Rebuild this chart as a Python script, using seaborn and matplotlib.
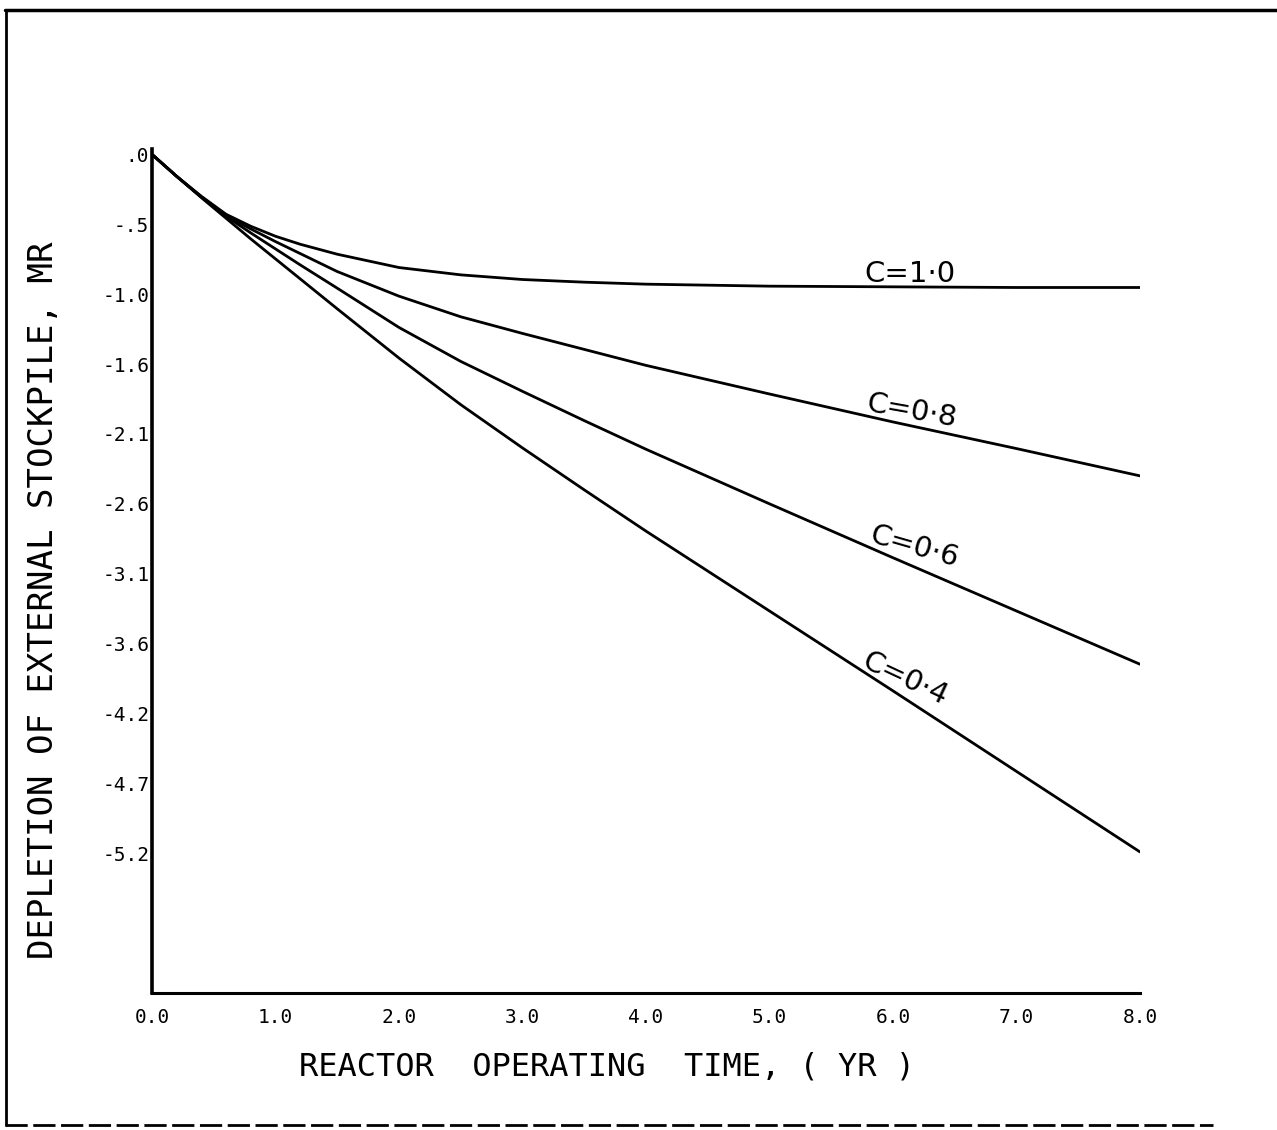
import matplotlib
matplotlib.use("Agg")
import matplotlib.pyplot as plt
from matplotlib.lines import Line2D
import seaborn as sns
import pandas as pd

sns.set_style("white")
plt.rcParams['font.family'] = ['DejaVu Sans Mono', 'DejaVu Sans']
plt.rcParams['text.color'] = 'black'
plt.rcParams['xtick.color'] = 'black'
plt.rcParams['ytick.color'] = 'black'

# values (depletion, MR) vs reactor operating time (yr)
years = [0, 0.2, 0.4, 0.6, 0.8, 1.0, 1.2, 1.5, 2.0, 2.5, 3.0, 3.5, 4.0, 5.0, 6.0, 7.0, 8.0]
c_10 = [0, -0.165, -0.315, -0.45, -0.54, -0.615, -0.675, -0.75, -0.85, -0.905, -0.94, -0.96, -0.975, -0.99, -0.995, -1.0, -1.0]
c_08 = [0, -0.165, -0.32, -0.46, -0.56, -0.655, -0.745, -0.88, -1.065, -1.22, -1.345, -1.465, -1.585, -1.80, -2.01, -2.21, -2.415]
c_06 = [0, -0.165, -0.32, -0.465, -0.59, -0.71, -0.83, -1.005, -1.30, -1.555, -1.78, -2.0, -2.215, -2.625, -3.03, -3.43, -3.83]
c_04 = [0, -0.165, -0.325, -0.48, -0.635, -0.785, -0.935, -1.16, -1.53, -1.88, -2.205, -2.52, -2.83, -3.43, -4.03, -4.635, -5.24]

series = {'C=1·0': c_10, 'C=0·8': c_08, 'C=0·6': c_06, 'C=0·4': c_04}

x_ticks = [0, 1, 2, 3, 4, 5, 6, 7, 8]
x_ticklabels = ['0.0', '1.0', '2.0', '3.0', '4.0', '5.0', '6.0', '7.0', '8.0']
y_ticks = [-0.525 * k for k in range(11)]
y_ticklabels = ['.0', '-.5', '-1.0', '-1.6', '-2.1', '-2.6', '-3.1', '-3.6', '-4.2', '-4.7', '-5.2']

# where the curve names sit: (x, y, rotation)
label_spots = {
    'C=1·0': (5.77, -0.955, 0),
    'C=0·8': (5.78, -1.93, -10),
    'C=0·6': (5.80, -2.91, -16),
    'C=0·4': (5.74, -3.85, -25),
}

frames = []
for name, vals in series.items():
    frames.append(pd.DataFrame({'time': years, 'depletion': vals, 'curve': name}))
df = pd.concat(frames)

fig = plt.figure(figsize=(12.77, 11.3), dpi=100)
ax = fig.add_axes([0.119, 0.1212, 0.7737, 0.7469])

sns.lineplot(data=df, x='time', y='depletion', hue='curve', ax=ax,
             palette=['black'] * 4, linewidth=2.0, legend=False, sort=True,
             solid_joinstyle='round')

ax.set_xlim(0, 8)
ax.set_ylim(-6.3, 0.04)
ax.set_xticks(x_ticks)
ax.set_xticklabels(x_ticklabels)
ax.set_yticks(y_ticks)
ax.set_yticklabels(y_ticklabels)
ax.tick_params(axis='x', direction='in', length=9, width=1.8, pad=11, labelsize=14)
ax.tick_params(axis='y', direction='in', length=8, width=1.8, pad=2, labelsize=14)

for s in ['top', 'right']:
    ax.spines[s].set_visible(False)
ax.spines['left'].set_linewidth(2.6)
ax.spines['bottom'].set_linewidth(2.2)
ax.spines['left'].set_color('black')
ax.spines['bottom'].set_color('black')

ax.set_xlabel('')
ax.set_ylabel('')
fig.text(0.475, 0.056, 'REACTOR  OPERATING  TIME, ( YR )', ha='center', va='center',
         fontsize=23)
fig.text(0.034, 0.469, 'DEPLETION OF EXTERNAL STOCKPILE, MR', ha='center', va='center',
         rotation=90, fontsize=24.5)

for name, (lx, ly, rot) in label_spots.items():
    ax.text(lx, ly, name, fontsize=21, family='DejaVu Sans', rotation=rot,
            rotation_mode='anchor', ha='left', va='baseline')

# page frame of the scanned sheet
fig.add_artist(Line2D([0.004, 1.0], [0.991, 0.991], color='black', linewidth=2.5,
                      transform=fig.transFigure))
fig.add_artist(Line2D([0.005, 0.005], [0.004, 0.991], color='black', linewidth=2.0,
                      transform=fig.transFigure))
fig.add_artist(Line2D([0.004, 0.95], [0.004, 0.004], color='black', linewidth=2.0,
                      linestyle=(0, (8, 2)), transform=fig.transFigure))

fig.savefig('out.png', dpi=100)
